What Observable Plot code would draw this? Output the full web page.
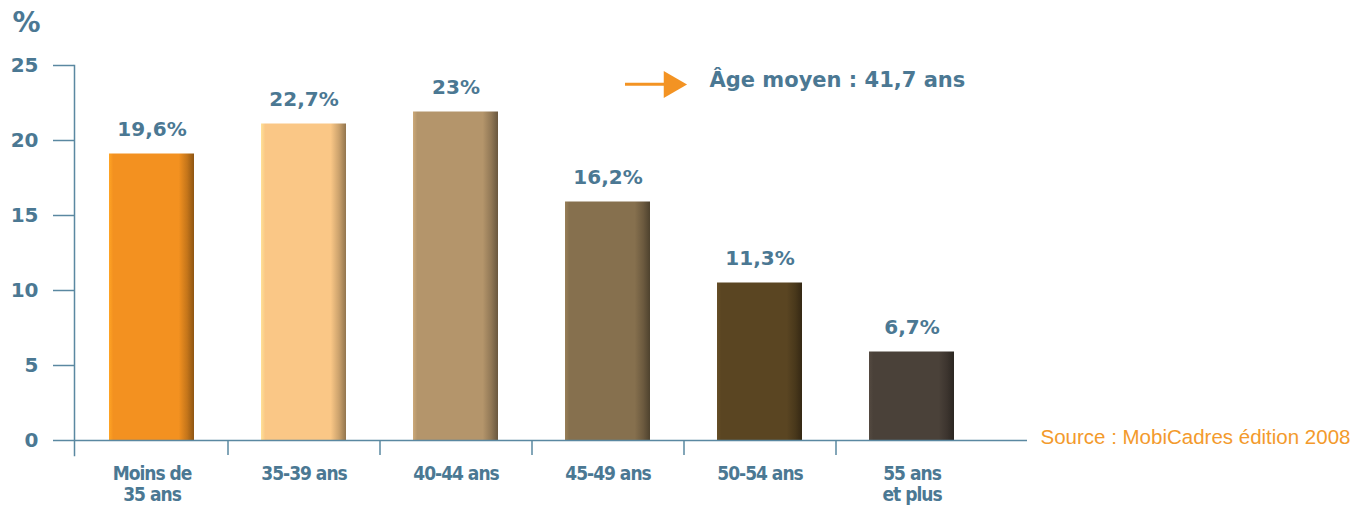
<!DOCTYPE html>
<html><head><meta charset="utf-8">
<script src="https://cdn.jsdelivr.net/npm/d3@7"></script>
<script src="https://cdn.jsdelivr.net/npm/@observablehq/plot@0.6"></script>
<style>
body{margin:0;background:#fff}
#chart g[aria-label="x-axis tick label"] text { letter-spacing: -1px; }
</style>
</head><body><div id="chart"></div>
<script>
// ---- data ----
const categories = ["Moins de\n35 ans", "35-39 ans", "40-44 ans", "45-49 ans", "50-54 ans", "55 ans\net plus"];
const barHeights = [19.1, 21.1, 21.9, 15.9, 10.5, 5.9];
const valueLabels = ["19,6%", "22,7%", "23%", "16,2%", "11,3%", "6,7%"];
const barColors = ["#f39120", "#fac786", "#b4956b", "#86704e", "#5a4522", "#4a4139"];
const yTicks = [0, 5, 10, 15, 20, 25];
const yLabel = "%";
const annotation = "Âge moyen : 41,7 ans";
const source = "Source : MobiCadres édition 2008";

// ---- styles ----
const textColor = "#4b7893";
const axisColor = "#5a88a1";
const orange = "#f39323";
const xRange = [76, 988], padIn = 0.44, padOut = 0.22;
const step = (xRange[1] - xRange[0]) / (categories.length - padIn + 2 * padOut);
const arrowLevel = 23.75;

const table = categories.map((c, i) => ({category: c, value: barHeights[i], label: valueLabels[i], fill: `url(#bar-g${i})`}));

const defsMark = () => {
  const defs = d3.create("svg:defs");
  barColors.forEach((c, i) => {
    const g = defs.append("linearGradient").attr("id", "bar-g" + i)
      .attr("x1", 0).attr("x2", 1).attr("y1", 0).attr("y2", 0);
    const base = d3.color(c);
    [[0, base.brighter(0.35)], [0.05, base], [0.82, base], [0.92, base.darker(0.6)], [1, base.darker(1.5)]]
      .forEach(([o, col]) => g.append("stop").attr("offset", o).attr("stop-color", col.formatHex()));
  });
  return defs.node();
};

const chart = Plot.plot({
  width: 1354, height: 509,
  marginLeft: 74, marginRight: 327, marginTop: 65, marginBottom: 54,
  style: {fontFamily: "DejaVu Sans", color: textColor, background: "#fff", overflow: "visible"},
  x: {domain: categories, range: xRange, paddingInner: padIn, paddingOuter: padOut, axis: null},
  y: {domain: [0, 25], range: [440, 65], axis: null},
  color: {type: "identity"},
  marks: [
    defsMark,
    Plot.barY(table, {x: "category", y: "value", fill: "fill"}),
    Plot.frame({anchor: "left", stroke: axisColor, strokeWidth: 1.5}),
    Plot.ruleY([0], {stroke: axisColor, strokeWidth: 1.5}),
    Plot.ruleX(categories.slice(1), {x: d => d, dx: -step / 2, y1: 0, y2: -1, stroke: axisColor, strokeWidth: 1.5}),
    Plot.axisY(yTicks, {tickSize: 21, tickPadding: 15, fontSize: 20, fontWeight: "bold", stroke: axisColor, strokeWidth: 1.5, fill: textColor, label: null}),
    Plot.axisX({tickSize: 0, tickPadding: 9, fontSize: 19, fontWeight: "bold", lineHeight: 1.12,
      fontFamily: "'Liberation Sans Narrow', 'DejaVu Sans Condensed', sans-serif", fill: textColor, label: null}),
    Plot.text(table, {x: "category", y: "value", text: "label", dy: -24, fontSize: 20, fontWeight: "bold", fill: textColor}),
    Plot.text([yLabel], {frameAnchor: "top-left", dx: -62, dy: -53, fontSize: 28, fontWeight: "bold", fill: textColor}),
    Plot.ruleY([arrowLevel], {insetLeft: 551, insetRight: 359, stroke: orange, strokeWidth: 3}),
    Plot.dot([0], {frameAnchor: "top-left", dx: 597, dy: 19, symbol: "triangle", rotate: 90, r: 10, fill: orange, stroke: null}),
    Plot.text([annotation], {frameAnchor: "top-left", dx: 635, dy: 7, textAnchor: "start", fontSize: 21, fontWeight: "bold", fill: textColor}),
    Plot.text([source], {frameAnchor: "top-left", dx: 966, dy: 364, textAnchor: "start", fontFamily: "Liberation Sans", fontSize: 20.5, fill: "#f39a2c"})
  ]
});
document.getElementById("chart").appendChild(chart);
</script>
</body></html>
